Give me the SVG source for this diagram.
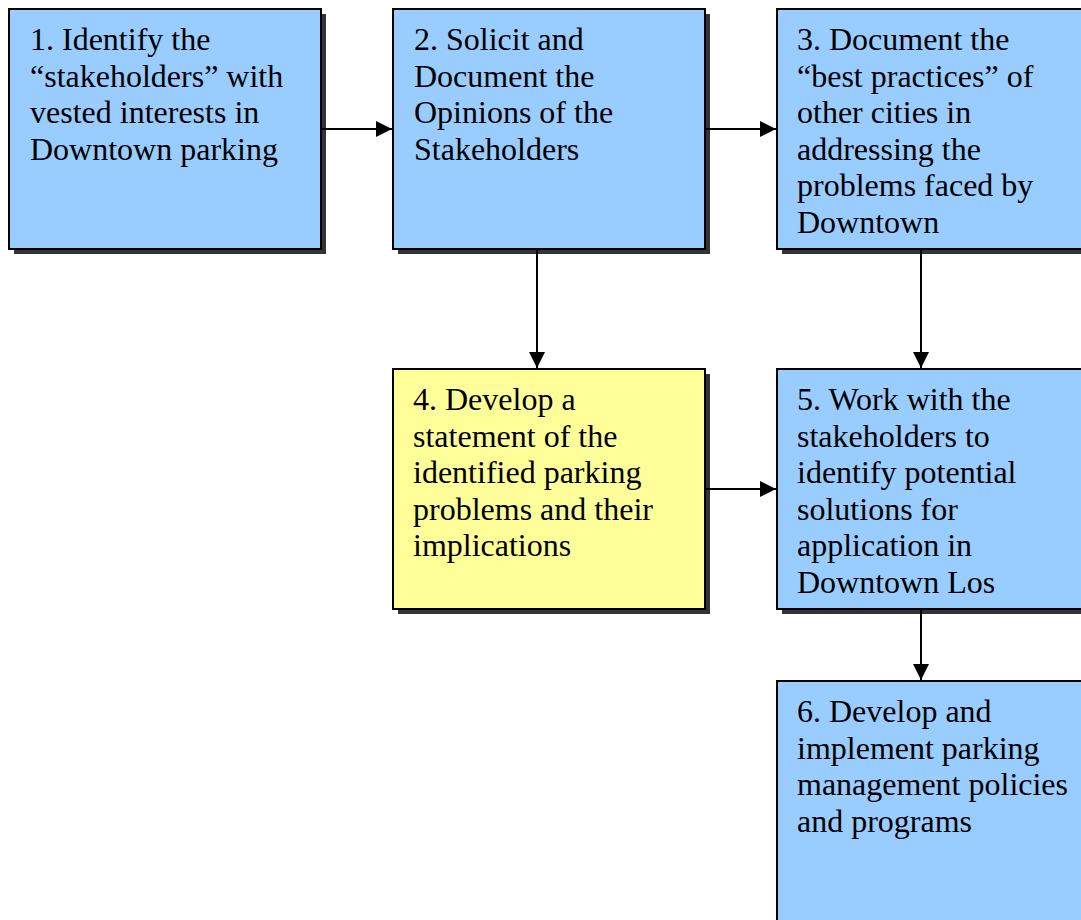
<svg xmlns="http://www.w3.org/2000/svg" width="1081" height="920" viewBox="0 0 1081 920">
<style>
.box{stroke:#000;stroke-width:2}
.blue{fill:#99CCFF}
.yellow{fill:#FFFF99}
.shadow{fill:#333}
.t{font-family:"Liberation Serif","Times New Roman",serif;font-size:32px;fill:#000}
.conn{stroke:#000;stroke-width:2;fill:none}
</style>
<defs>
<marker id="arr" viewBox="0 0 10 10" refX="10" refY="5" markerWidth="8" markerHeight="8" markerUnits="strokeWidth" orient="auto">
<path d="M0,0 L10,5 L0,10 z" fill="#000"/>
</marker>
</defs>
<rect width="1081" height="920" fill="#fff"/>
<g id="node1">
<rect class="shadow" x="14" y="14" width="312" height="240"/>
<rect class="box blue" x="9" y="9" width="312" height="240"/>
<text class="t" x="30" y="50">1. Identify the</text>
<text class="t" x="30" y="86.5">“stakeholders” with</text>
<text class="t" x="30" y="123">vested interests in</text>
<text class="t" x="30" y="159.5">Downtown parking</text>
</g>
<g id="node2">
<rect class="shadow" x="398" y="14" width="312" height="240"/>
<rect class="box blue" x="393" y="9" width="312" height="240"/>
<text class="t" x="414" y="50">2. Solicit and</text>
<text class="t" x="414" y="86.5">Document the</text>
<text class="t" x="414" y="123">Opinions of the</text>
<text class="t" x="414" y="159.5">Stakeholders</text>
</g>
<g id="node3">
<rect class="shadow" x="782" y="14" width="312" height="240"/>
<rect class="box blue" x="777" y="9" width="312" height="240"/>
<text class="t" x="797" y="50">3. Document the</text>
<text class="t" x="797" y="86.5">“best practices” of</text>
<text class="t" x="797" y="123">other cities in</text>
<text class="t" x="797" y="159.5">addressing the</text>
<text class="t" x="797" y="196">problems faced by</text>
<text class="t" x="797" y="232.5">Downtown</text>
</g>
<g id="node4">
<rect class="shadow" x="398" y="374" width="312" height="240"/>
<rect class="box yellow" x="393" y="369" width="312" height="240"/>
<text class="t" x="413" y="410">4. Develop a</text>
<text class="t" x="413" y="446.5">statement of the</text>
<text class="t" x="413" y="483">identified parking</text>
<text class="t" x="413" y="519.5">problems and their</text>
<text class="t" x="413" y="556">implications</text>
</g>
<g id="node5">
<rect class="shadow" x="782" y="374" width="312" height="240"/>
<rect class="box blue" x="777" y="369" width="312" height="240"/>
<text class="t" x="797" y="410">5. Work with the</text>
<text class="t" x="797" y="446.5">stakeholders to</text>
<text class="t" x="797" y="483">identify potential</text>
<text class="t" x="797" y="519.5">solutions for</text>
<text class="t" x="797" y="556">application in</text>
<text class="t" x="797" y="592.5">Downtown Los</text>
</g>
<g id="node6">
<rect class="shadow" x="782" y="686" width="312" height="240"/>
<rect class="box blue" x="777" y="681" width="312" height="240"/>
<text class="t" x="797" y="722">6. Develop and</text>
<text class="t" x="797" y="758.5">implement parking</text>
<text class="t" x="797" y="795">management policies</text>
<text class="t" x="797" y="831.5">and programs</text>
</g>
<g id="connectors">
<line class="conn" x1="322" y1="129" x2="392" y2="129" marker-end="url(#arr)"/>
<line class="conn" x1="706" y1="129" x2="776" y2="129" marker-end="url(#arr)"/>
<line class="conn" x1="537" y1="250" x2="537" y2="368" marker-end="url(#arr)"/>
<line class="conn" x1="921" y1="250" x2="921" y2="368" marker-end="url(#arr)"/>
<line class="conn" x1="706" y1="489" x2="776" y2="489" marker-end="url(#arr)"/>
<line class="conn" x1="921" y1="610" x2="921" y2="680" marker-end="url(#arr)"/>
</g>
</svg>
